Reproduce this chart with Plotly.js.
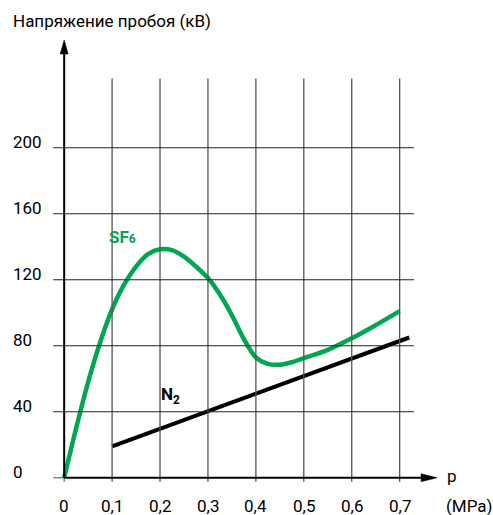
<!DOCTYPE html>
<html>
<head>
<meta charset="utf-8">
<script src="https://cdn.plot.ly/plotly-3.0.1.min.js"></script>
<style>html,body{margin:0;padding:0;background:#fff}#chart{width:493px;height:515px}</style>
</head>
<body>
<div id="chart"></div>
<script>
// ---- data ----
var sfP = [0, 0.025, 0.05, 0.075, 0.1, 0.125, 0.15, 0.175, 0.2, 0.225, 0.25, 0.275, 0.3, 0.325, 0.35, 0.375, 0.4, 0.425, 0.45, 0.475, 0.5, 0.55, 0.6, 0.65, 0.7];
var sfV = [0, 30, 58, 82, 102, 117, 128, 135.5, 138.5, 138, 134, 128, 121, 111, 98.5, 84, 73, 69, 68.5, 70, 72.5, 77.5, 84.5, 92.5, 101];
var n2P = [0.1, 0.72];
var n2V = [19, 85];
var xTicks = [0, 0.1, 0.2, 0.3, 0.4, 0.5, 0.6, 0.7];
var xTickText = ["0", "0,1", "0,2", "0,3", "0,4", "0,5", "0,6", "0,7"];
var yTicks = [0, 40, 80, 120, 160, 200];
var yTickText = ["0", "40", "80", "120", "160", "200"];
var yTitle = "Напряжение пробоя (кВ)";
var xUnitP = "p";
var xUnit = "(MPa)";
var sfLabel = "SF<span style='font-size:12px'>6</span>";
var n2Label = "N<sub>2</sub>";

var FONT = "Roboto, Liberation Sans, sans-serif";
var GREEN = "#00a651";

var gridTop = 242, gridRight = 0.73, stubLeft = -0.023, stubBottom = -2.4;
var yTop = 265.3, xTip = 0.778;

var shapes = [];
// vertical grid
xTicks.forEach(function (v) {
  if (v === 0) {
    shapes.push({type:"line", xref:"x", yref:"y", x0:v, x1:v, y0:stubBottom, y1:0, line:{color:"#777", width:1.3}});
    return;
  }
  shapes.push({type:"line", xref:"x", yref:"y", x0:v, x1:v, y0:stubBottom, y1:gridTop, line:{color:"#555", width:1.3}});
});
// horizontal grid
yTicks.forEach(function (v) {
  if (v === 0) {
    shapes.push({type:"line", xref:"x", yref:"y", x0:stubLeft, x1:0, y0:0, y1:0, line:{color:"#777", width:1.3}});
    return;
  }
  shapes.push({type:"line", xref:"x", yref:"y", x0:stubLeft, x1:gridRight, y0:v, y1:v, line:{color:"#222", width:1.1}});
});
// axes
shapes.push({type:"line", xref:"x", yref:"y", x0:0, x1:0, y0:0, y1:yTop - 6, line:{color:"#000", width:2}});
shapes.push({type:"line", xref:"x", yref:"y", x0:0, x1:xTip - 0.02, y0:0, y1:0, line:{color:"#000", width:2}});
// arrowheads (pixel-sized)
shapes.push({type:"path", xref:"x", yref:"y", xsizemode:"pixel", ysizemode:"pixel", xanchor:0, yanchor:yTop,
  path:"M0,0 L-4,-14 L4,-14 Z", fillcolor:"#000", line:{color:"#000", width:0.5}});
shapes.push({type:"path", xref:"x", yref:"y", xsizemode:"pixel", ysizemode:"pixel", xanchor:xTip, yanchor:0,
  path:"M0,0 L-16,4 L-16,-4 Z", fillcolor:"#000", line:{color:"#000", width:0.5}});

var ann = [];
yTicks.forEach(function (v, i) {
  ann.push({xref:"paper", yref:"y", x:-0.087, y:v, xanchor:"left", yanchor:"middle", yshift:6,
    text:yTickText[i], showarrow:false, font:{family:FONT, size:17, color:"#000"}});
});
xTicks.forEach(function (v, i) {
  ann.push({xref:"x", yref:"y", x:v, y:0, xanchor:"center", yanchor:"middle", yshift:-28,
    text:xTickText[i], showarrow:false, font:{family:FONT, size:17, color:"#000"}});
});
ann.push({xref:"paper", yref:"paper", x:-0.087, y:1, xanchor:"left", yanchor:"middle", yshift:19,
  xshift:0, text:yTitle, showarrow:false, font:{family:FONT, size:17, color:"#000"}});
ann.push({xref:"x", yref:"y", x:xTip, y:0, xanchor:"left", yanchor:"middle", xshift:8, yshift:2,
  text:xUnitP, showarrow:false, font:{family:FONT, size:17, color:"#000"}});
ann.push({xref:"x", yref:"y", x:xTip, y:0, xanchor:"left", yanchor:"middle", xshift:7, yshift:-28,
  text:xUnit, showarrow:false, font:{family:FONT, size:17, color:"#000"}});
ann.push({xref:"x", yref:"y", x:0.09, y:146, xanchor:"left", yanchor:"middle",
  text:"<b>" + sfLabel + "</b>", showarrow:false, font:{family:FONT, size:17, color:GREEN}});
ann.push({xref:"x", yref:"y", x:0.221, y:50, xanchor:"center", yanchor:"middle",
  text:"<b>" + n2Label + "</b>", showarrow:false, font:{family:FONT, size:17, color:"#000"}});

var data = [
  {x:n2P, y:n2V, type:"scatter", mode:"lines", line:{color:"#000", width:4}, hoverinfo:"skip"},
  {x:sfP, y:sfV, type:"scatter", mode:"lines", line:{color:GREEN, width:4.5, shape:"spline", smoothing:1}, hoverinfo:"skip"}
];

var layout = {
  width:493, height:515,
  margin:{l:45, r:55, t:40, b:29, pad:0},
  paper_bgcolor:"#fff", plot_bgcolor:"#fff",
  showlegend:false,
  xaxis:{range:[-0.04, 0.78], showgrid:false, zeroline:false, showline:false, showticklabels:false, ticks:""},
  yaxis:{range:[-5, yTop], showgrid:false, zeroline:false, showline:false, showticklabels:false, ticks:""},
  shapes:shapes,
  annotations:ann
};

Plotly.newPlot("chart", data, layout, {staticPlot:true, displayModeBar:false});
</script>
</body>
</html>
